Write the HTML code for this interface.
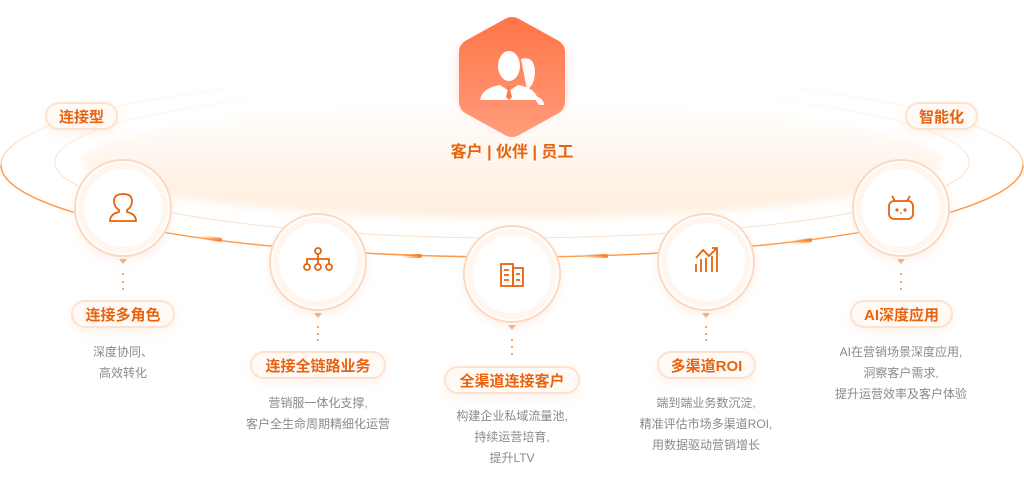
<!DOCTYPE html>
<html><head><meta charset="utf-8"><style>
html,body{margin:0;padding:0;background:#fff;}
body{width:1024px;height:489px;position:relative;overflow:hidden;font-family:"Liberation Sans","Noto Sans CJK SC",sans-serif;}
.pill{position:absolute;height:28px;line-height:27px;border:2px solid #fde3cf;border-radius:16px;background:#fffaf6;color:#e8630f;font-weight:bold;font-size:15px;text-align:center;box-shadow:0 4px 10px rgba(250,160,100,0.12);box-sizing:border-box;}
.desc{position:absolute;color:#8a8a8a;font-size:12px;line-height:21px;text-align:center;width:220px;}
</style></head><body>
<svg width="1024" height="489" style="position:absolute;left:0;top:0">
<defs>
<linearGradient id="fill" x1="0" y1="0" x2="0" y2="1">
<stop offset="0" stop-color="#fff8f2" stop-opacity="0.3"/><stop offset="0.6" stop-color="#fff3e8"/><stop offset="1" stop-color="#ffeede"/>
</linearGradient>
<linearGradient id="topfade" gradientUnits="userSpaceOnUse" x1="0" y1="73" x2="0" y2="165">
<stop offset="0" stop-color="#fde0c8" stop-opacity="0"/><stop offset="0.6" stop-color="#fde0c8" stop-opacity="0.5"/><stop offset="1" stop-color="#fdcfa6"/>
</linearGradient>
<linearGradient id="topfade2" gradientUnits="userSpaceOnUse" x1="0" y1="86" x2="0" y2="162">
<stop offset="0" stop-color="#fde0c8" stop-opacity="0"/><stop offset="1" stop-color="#fde0c8"/>
</linearGradient>
<linearGradient id="hex" x1="0" y1="0" x2="0" y2="1">
<stop offset="0" stop-color="#ff7447"/><stop offset="1" stop-color="#ff9d7c"/>
</linearGradient>
<linearGradient id="comet" x1="0" y1="0" x2="1" y2="0">
<stop offset="0" stop-color="#ff8a2a" stop-opacity="0"/><stop offset="1" stop-color="#ff7a1a"/>
</linearGradient>
<filter id="sh" x="-30%" y="-30%" width="160%" height="160%"><feGaussianBlur stdDeviation="5"/></filter>
<filter id="blur" x="-10%" y="-30%" width="120%" height="160%"><feGaussianBlur stdDeviation="4"/></filter>
</defs>
<ellipse cx="512" cy="162" rx="430" ry="56" fill="url(#fill)" filter="url(#blur)"/>
<path d="M1,165 A511,92 0 0 1 1023,165" fill="none" stroke="url(#topfade)" stroke-width="1.5"/>
<path d="M1,165 A511,92 0 0 0 1023,165" fill="none" stroke="#ff9a48" stroke-width="1.5"/>
<path d="M55,162 A457,76 0 0 1 969,162" fill="none" stroke="url(#topfade2)" stroke-width="1"/>
<path d="M55,162 A457,76 0 0 0 969,162" fill="none" stroke="#fde0c8" stroke-width="1"/>
<g fill="url(#comet)">
<rect x="200" y="238" width="22" height="4" rx="2" transform="rotate(7 222 240)"/>
<rect x="400" y="254" width="22" height="4" rx="2"/>
<rect x="586" y="254" width="22" height="4" rx="2"/>
<rect x="790" y="238" width="22" height="4" rx="2" transform="rotate(-7 812 240)"/>
</g>
<!-- hexagon -->
<polygon points="512,22 565,50 565,104 512,132 459,104 459,50" fill="#ff8a60" opacity="0.35" filter="url(#sh)"/>
<path d="M505,19 Q512,15 519,19 L559,41 Q565,45 565,52 L565,102 Q565,109 559,113 L519,135 Q512,139 505,135 L465,113 Q459,109 459,102 L459,52 Q459,45 465,41 Z" fill="url(#hex)"/>
<g fill="#fff">
<path d="M521,59 q14,-4 14,14 q-1,12 -7,16 q6,6 12,9 q4,3 4,7 l-5,0 q-3,-6 -11,-10 z" opacity="0.95"/>
<ellipse cx="509" cy="66" rx="11" ry="15"/>
<path d="M480,100 q2,-12 20,-15 l9,6 l9,-6 q18,3 20,15 z"/>
</g>
<path d="M507,86 h4 l-1,3 l2,8 l-3,3 l-3,-3 l2,-8z" fill="#ff7a50"/>
<!-- circles -->
<g>
<g fill="#fde3d4" opacity="0.6" filter="url(#sh)">
<circle cx="123" cy="212" r="48"/><circle cx="318" cy="266" r="48"/><circle cx="512" cy="278" r="48"/><circle cx="706" cy="266" r="48"/><circle cx="901" cy="212" r="48"/>
</g>
<g fill="#fff" stroke="#fdd8bd" stroke-width="2">
<circle cx="123" cy="208" r="48"/><circle cx="318" cy="262" r="48"/><circle cx="512" cy="274" r="48"/><circle cx="706" cy="262" r="48"/><circle cx="901" cy="208" r="48"/>
</g>
<g fill="none" stroke="#fff6ef" stroke-width="6">
<circle cx="123" cy="208" r="42"/><circle cx="318" cy="262" r="42"/><circle cx="512" cy="274" r="42"/><circle cx="706" cy="262" r="42"/><circle cx="901" cy="208" r="42"/>
</g>
<g fill="#f0b28a">
<polygon points="119,259 127,259 123,264"/><polygon points="314,313 322,313 318,318"/><polygon points="508,325 516,325 512,330"/><polygon points="702,313 710,313 706,318"/><polygon points="897,259 905,259 901,264"/>
</g>
<g fill="#f08a3a">
<circle cx="123" cy="274" r="1"/><circle cx="123" cy="282" r="1"/><circle cx="123" cy="289" r="1"/>
<circle cx="318" cy="327" r="1"/><circle cx="318" cy="334" r="1"/><circle cx="318" cy="340" r="1"/>
<circle cx="512" cy="340" r="1"/><circle cx="512" cy="347" r="1"/><circle cx="512" cy="354" r="1"/>
<circle cx="706" cy="327" r="1"/><circle cx="706" cy="334" r="1"/><circle cx="706" cy="340" r="1"/>
<circle cx="901" cy="274" r="1"/><circle cx="901" cy="282" r="1"/><circle cx="901" cy="289" r="1"/>
</g>
</g>
<!-- icons -->
<g fill="none" stroke="#e8630f" stroke-width="1.8">
<path d="M119,210 q-5,-3 -5,-9 q0,-7 9,-7 q9,0 9,7 q0,6 -5,9 l0,2 q9,2 9,9 l-26,0 q0,-7 9,-9 z"/>
<circle cx="318" cy="251" r="3"/><path d="M318,254 v5 M307,264 v-5 h22 v5 M318,259 v5"/>
<circle cx="307" cy="267" r="3"/><circle cx="318" cy="267" r="3"/><circle cx="329" cy="267" r="3"/>
<rect x="501" y="264" width="12" height="22"/><rect x="513" y="268" width="10" height="18"/>
<path d="M504,270 h5 M504,275 h5 M504,280 h5 M516,274 h4 M516,280 h4"/>
<path d="M696,258 l7,-8 l6,6 l8,-8 M712,248 h5 v5 M696,264 v8 M701,259 v13 M706,258 v14 M712,256 v16 M717,253 v19"/>
<rect x="889" y="201" width="24" height="18" rx="5"/><path d="M895,201 l-3,-5 M907,201 l3,-5"/>
</g>
<g fill="#e8630f"><circle cx="897" cy="210" r="1.6"/><circle cx="905" cy="210" r="1.6"/><circle cx="901" cy="213" r="0.9"/></g>
<text x="512" y="157" text-anchor="middle" font-size="16" font-weight="bold" fill="#e8630f" font-family="Liberation Sans,Noto Sans CJK SC,sans-serif">客户 | 伙伴 | 员工</text>
</svg>
<div class="pill" style="left:45px;top:102px;width:73px;">连接型</div>
<div class="pill" style="left:905px;top:102px;width:73px;">智能化</div>
<div class="pill" style="left:71px;top:300px;width:104px;">连接多角色</div>
<div class="pill" style="left:250px;top:351px;width:136px;">连接全链路业务</div>
<div class="pill" style="left:444px;top:366px;width:136px;">全渠道连接客户</div>
<div class="pill" style="left:657px;top:351px;width:99px;">多渠道ROI</div>
<div class="pill" style="left:850px;top:300px;width:103px;">AI深度应用</div>
<div class="desc" style="left:13px;top:342px;">深度协同、<br>高效转化</div>
<div class="desc" style="left:208px;top:393px;">营销服一体化支撑,<br>客户全生命周期精细化运营</div>
<div class="desc" style="left:402px;top:406px;">构建企业私域流量池,<br>持续运营培育,<br>提升LTV</div>
<div class="desc" style="left:596px;top:393px;">端到端业务数沉淀,<br>精准评估市场多渠道ROI,<br>用数据驱动营销增长</div>
<div class="desc" style="left:791px;top:342px;">AI在营销场景深度应用,<br>洞察客户需求,<br>提升运营效率及客户体验</div>
</body></html>
